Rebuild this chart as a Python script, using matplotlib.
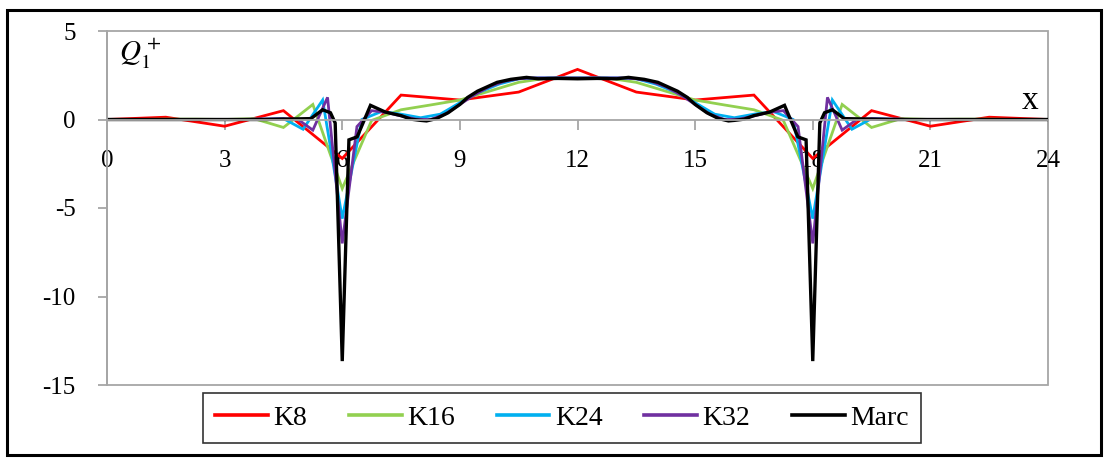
import numpy as np
import matplotlib
matplotlib.use("Agg")
import matplotlib.pyplot as plt
from matplotlib.patches import Rectangle
from matplotlib.lines import Line2D

plt.rcParams['font.family'] = ['Liberation Serif', 'DejaVu Serif']
plt.rcParams['mathtext.fontset'] = 'stix'
plt.rcParams['axes.unicode_minus'] = False

# ---------------- data ----------------
x_k8 = np.linspace(0, 24, 17)
k8 = [0, 0.13, -0.38, 0.5, -2.2, 1.38, 1.1, 1.55, 2.83, 1.55, 1.1, 1.38, -2.2, 0.5, -0.38, 0.13, 0]

x_k16 = np.linspace(0, 24, 33)
k16 = [0, 0, 0.02, 0.02, 0, 0.05, -0.45, 0.85, -3.9, -0.05, 0.55, 0.82, 1.1, 1.6, 2.1, 2.35, 2.35,
       2.35, 2.1, 1.6, 1.1, 0.82, 0.55, -0.05, -3.9, 0.85, -0.45, 0.05, 0, 0.02, 0.02, 0, 0]

x_k24 = np.linspace(0, 24, 49)
k24 = [0, 0, 0, 0, 0, 0, 0, 0, 0.02, 0.05, -0.55, 1.1, -5.6, 0.0, 0.45, 0.3, 0.1, 0.3, 0.95, 1.55,
       2.0, 2.3, 2.35, 2.35, 2.35,
       2.35, 2.35, 2.3, 2.0, 1.55, 0.95, 0.3, 0.1, 0.3, 0.45, 0.0, -5.6, 1.1, -0.55, 0.05, 0.02,
       0, 0, 0, 0, 0, 0, 0, 0]

x_k32 = np.linspace(0, 24, 65)
k32 = [0, 0, 0, 0, 0, 0, 0, 0, 0, 0, 0.02, 0.03, 0.05, 0.0, -0.6, 1.25, -7.0, -0.4, 0.5, 0.4,
       0.2, 0.02, 0.0, 0.3, 0.85, 1.4, 1.85, 2.15, 2.3, 2.35, 2.35, 2.35, 2.35,
       2.35, 2.35, 2.35, 2.3, 2.15, 1.85, 1.4, 0.85, 0.3, 0.0, 0.02, 0.2, 0.4, 0.5, -0.4, -7.0,
       1.25, -0.6, 0.0, 0.05, 0.03, 0.02, 0, 0, 0, 0, 0, 0, 0, 0, 0, 0]

x_marc = [0, 1, 2, 3, 4, 4.5, 5.2, 5.5, 5.7, 5.82, 6.0, 6.17, 6.38, 6.72, 7.1, 7.5, 7.75, 8.0,
          8.15, 8.4, 8.7, 9.0, 9.2, 9.45, 9.65, 9.95, 10.3, 10.7, 11.0, 11.5, 12.0,
          12.5, 13.0, 13.3, 13.7, 14.05, 14.35, 14.55, 14.8, 15.0, 15.3, 15.6, 15.85, 16.0,
          16.25, 16.5, 16.9, 17.28, 17.62, 17.83, 18.0, 18.18, 18.3, 18.5, 18.8, 19.5, 20,
          21, 22, 23, 24]
marc = [0, 0, 0, 0, 0, 0.02, 0.05, 0.55, 0.38, -0.2, -13.65, -1.15, -0.98, 0.8, 0.42, 0.22,
        0.02, -0.05, -0.08, 0.05, 0.38, 0.85, 1.25, 1.6, 1.8, 2.1, 2.27, 2.38, 2.3, 2.32, 2.3,
        2.32, 2.3, 2.38, 2.27, 2.1, 1.8, 1.6, 1.25, 0.85, 0.38, 0.05, -0.08, -0.05, 0.02, 0.22,
        0.42, 0.8, -0.98, -1.15, -13.65, -0.2, 0.38, 0.55, 0.05, 0.02, 0, 0, 0, 0, 0]

series = [("K8", x_k8, k8, "#FF0000"),
          ("K16", x_k16, k16, "#92D050"),
          ("K24", x_k24, k24, "#00B0F0"),
          ("K32", x_k32, k32, "#7030A0"),
          ("Marc", x_marc, marc, "#000000")]

xticks = [0, 3, 6, 9, 12, 15, 18, 21, 24]
yticks = [-15, -10, -5, 0, 5]

# ---------------- figure ----------------
W, H = 1108, 458
fig = plt.figure(figsize=(W / 100, H / 100), dpi=100)
ax = fig.add_axes([107 / W, (H - 385) / H, (1048 - 107) / W, (385 - 31) / H])

grey = "#A6A6A6"
for name, xs, ys, col in series:
    lw = 2.4 if name == "Marc" else 2.0
    ax.plot(xs, ys, color=col, lw=lw, solid_joinstyle='miter', label=name)

ax.set_xlim(0, 24)
ax.set_ylim(-15, 5)
ax.set_axisbelow(True)

for s in ["top", "right"]:
    ax.spines[s].set_visible(False)
ax.spines["bottom"].set_position(("data", 0))
ax.spines["bottom"].set_color(grey)
ax.spines["left"].set_color(grey)
ax.spines["bottom"].set_linewidth(1.3)
ax.spines["left"].set_linewidth(1.3)
ax.add_patch(Rectangle((0, 0), 1, 1, transform=ax.transAxes, fill=False,
                       edgecolor=grey, lw=1.3, clip_on=False, zorder=0.4))

ax.set_xticks(xticks)
ax.set_xticklabels([str(v) for v in xticks])
ax.set_yticks(yticks)
ax.set_yticklabels([str(v) for v in yticks])
ax.tick_params(axis="x", direction="out", length=7, width=1.3, color=grey,
               labelsize=18, pad=15)
ax.tick_params(axis="y", direction="out", length=6.5, width=1.3, color=grey,
               labelsize=18, pad=16)

ax.text(0.3, 3.65, r"$Q_1^+$", fontsize=21, ha="left", va="center")
ax.text(23.55, 1.05, "x", fontsize=24, ha="center", va="center")

# outer frame
fig.patches.append(Rectangle((7 / W, 3 / H), (1101 - 7) / W, (448 - 3) / H,
                             transform=fig.transFigure, fill=False,
                             edgecolor="black", lw=2.2, zorder=0))

handles = [Line2D([], [], color=c, lw=2.6) for _, _, _, c in series]
leg = fig.legend(handles, [n for n, _, _, _ in series], loc="center",
                 bbox_to_anchor=(562 / W, (H - 418) / H), ncol=5, fontsize=20,
                 frameon=True, fancybox=False, edgecolor="black",
                 handlelength=1.9, handletextpad=0.2, columnspacing=1.5,
                 borderpad=0.45)
leg.get_frame().set_linewidth(1.2)

fig.savefig("out.png", dpi=100)
